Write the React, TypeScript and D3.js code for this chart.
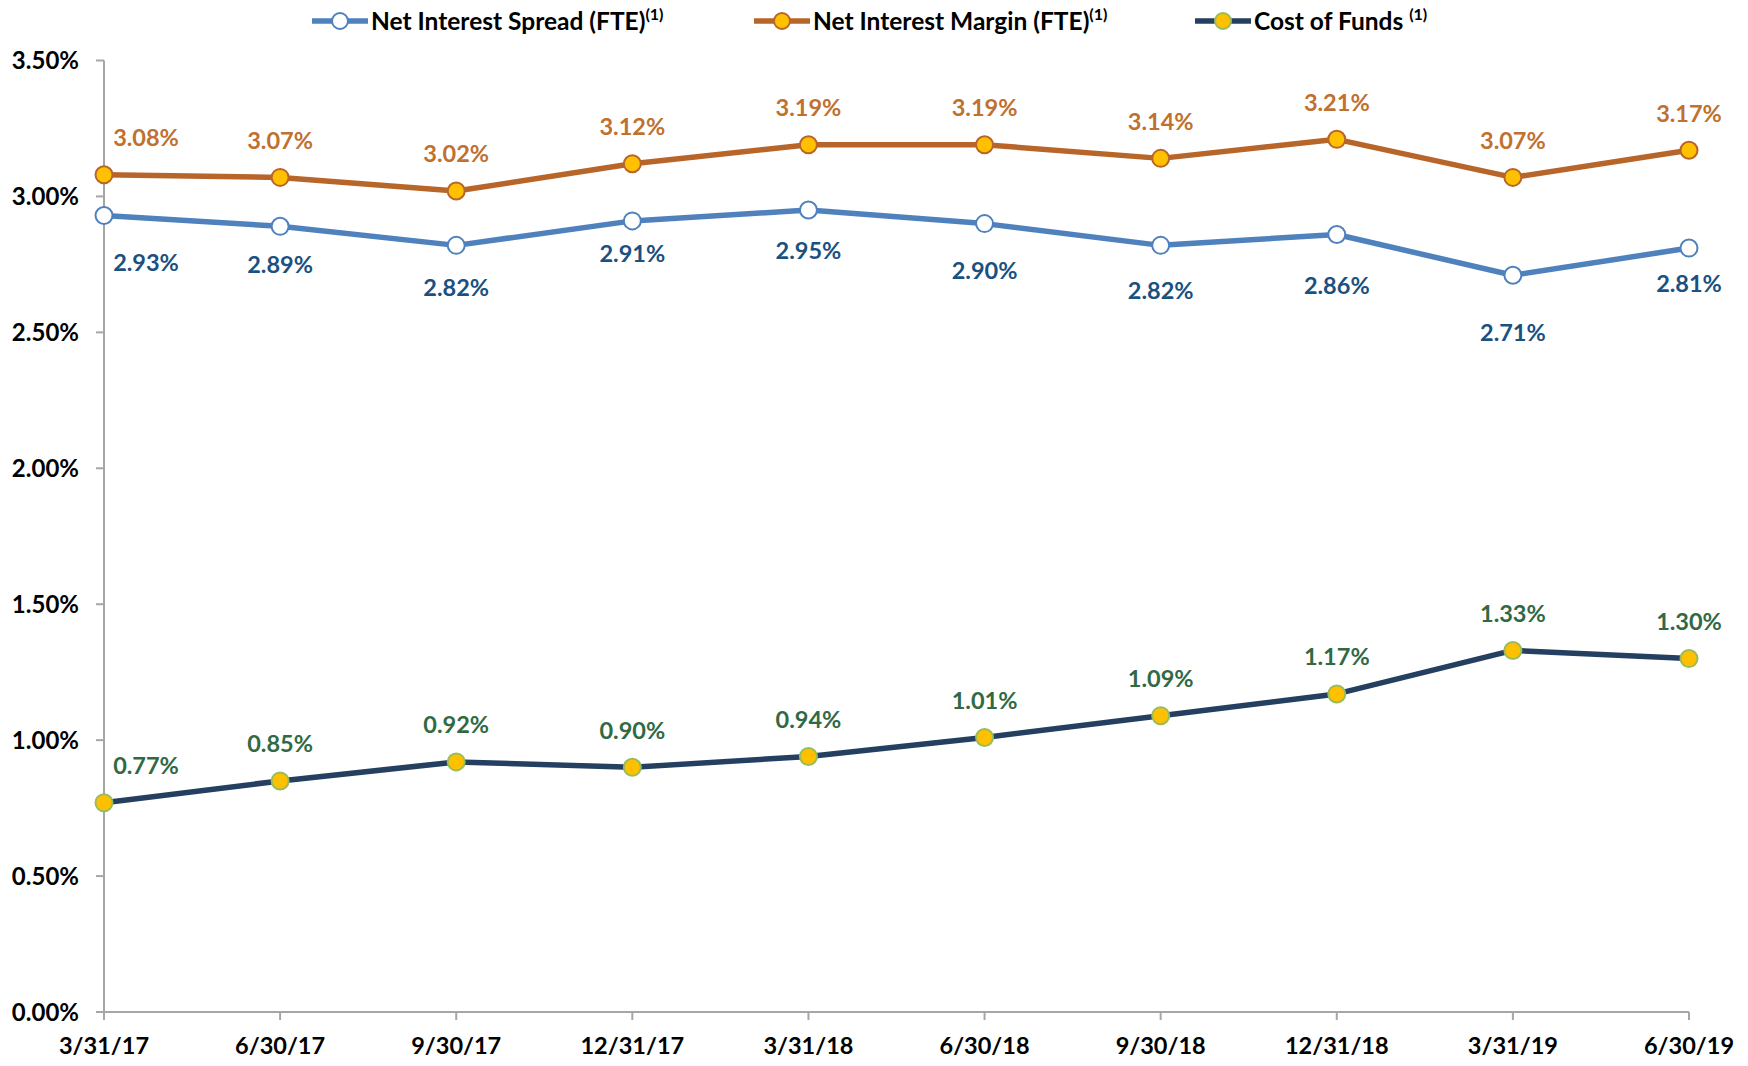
import { useRef, useEffect } from 'react';
import * as d3 from 'd3';

const dates = ['3/31/17', '6/30/17', '9/30/17', '12/31/17', '3/31/18', '6/30/18', '9/30/18', '12/31/18', '3/31/19', '6/30/19'];
const spread = [2.93, 2.89, 2.82, 2.91, 2.95, 2.90, 2.82, 2.86, 2.71, 2.81];
const margin = [3.08, 3.07, 3.02, 3.12, 3.19, 3.19, 3.14, 3.21, 3.07, 3.17];
const costOfFunds = [0.77, 0.85, 0.92, 0.90, 0.94, 1.01, 1.09, 1.17, 1.33, 1.30];
const yTicks = [0, 0.5, 1.0, 1.5, 2.0, 2.5, 3.0, 3.5];

// label offsets below the spread points (excel had them hand placed)
const spreadLabelDy = [47, 38, 42, 33, 41, 47, 45, 51, 57, 35];

const W = 1748;
const H = 1066;
const FONT = 'Lato, "Open Sans", sans-serif';

export default function App() {
  const svgRef = useRef<SVGSVGElement>(null);

  function renderChart() {
    const svg = d3.select(svgRef.current);
    svg.selectAll('*').remove();
    svg.attr('width', W).attr('height', H);

    const x = d3.scalePoint<string>().domain(dates).range([104, 1689]);
    const y = d3.scaleLinear().domain([0, 3.5]).range([1012, 60.5]);

    const axisColor = '#a6a6a6';

    // y axis
    svg.append('line')
      .attr('x1', 104).attr('x2', 104)
      .attr('y1', y(3.5)).attr('y2', y(0))
      .attr('stroke', axisColor).attr('stroke-width', 2);
    const yt = svg.selectAll('.ytick').data(yTicks).join('g').attr('class', 'ytick');
    yt.append('line')
      .attr('x1', 96).attr('x2', 104)
      .attr('y1', (d) => y(d)).attr('y2', (d) => y(d))
      .attr('stroke', axisColor).attr('stroke-width', 2);
    yt.append('text')
      .text((d) => d.toFixed(2) + '%')
      .attr('x', 79).attr('y', (d) => y(d))
      .attr('dy', '0.36em')
      .attr('text-anchor', 'end')
      .attr('font-family', FONT).attr('font-weight', 700).attr('font-size', 24)
      .attr('fill', '#000');

    // x axis
    svg.append('line')
      .attr('x1', 104).attr('x2', x(dates[dates.length - 1])!)
      .attr('y1', y(0)).attr('y2', y(0))
      .attr('stroke', axisColor).attr('stroke-width', 2);
    const xt = svg.selectAll('.xtick').data(dates).join('g').attr('class', 'xtick');
    xt.append('line')
      .attr('x1', (d) => x(d)!).attr('x2', (d) => x(d)!)
      .attr('y1', y(0)).attr('y2', y(0) + 8)
      .attr('stroke', axisColor).attr('stroke-width', 2);
    xt.append('text')
      .text((d) => d)
      .attr('x', (d) => x(d)!).attr('y', 1046)
      .attr('dy', '0.36em')
      .attr('text-anchor', 'middle')
      .attr('font-family', FONT).attr('font-weight', 700).attr('font-size', 23.5)
      .attr('fill', '#000');

    const line = d3.line<number>()
      .x((_, i) => x(dates[i])!)
      .y((d) => y(d));

    const series = [
      { name: 'spread', values: spread, stroke: '#4f81bd', mFill: '#fff', mStroke: '#4f81bd', label: '#1a5180' },
      { name: 'margin', values: margin, stroke: '#b8652a', mFill: '#ffc000', mStroke: '#b8652a', label: '#c0702f' },
      { name: 'cof', values: costOfFunds, stroke: '#243f60', mFill: '#ffc000', mStroke: '#9bbb59', label: '#2f6a45' },
    ];

    series.forEach((s) => {
      svg.append('path')
        .datum(s.values)
        .attr('d', line)
        .attr('fill', 'none')
        .attr('stroke', s.stroke)
        .attr('stroke-width', 5.5)
        .attr('stroke-linejoin', 'round');
      svg.selectAll('.m-' + s.name)
        .data(s.values)
        .join('circle')
        .attr('class', 'm-' + s.name)
        .attr('cx', (_, i) => x(dates[i])!)
        .attr('cy', (d) => y(d))
        .attr('r', 8.5)
        .attr('fill', s.mFill)
        .attr('stroke', s.mStroke)
        .attr('stroke-width', 2);
      svg.selectAll('.l-' + s.name)
        .data(s.values)
        .join('text')
        .attr('class', 'l-' + s.name)
        .text((d) => d.toFixed(2) + '%')
        .attr('x', (_, i) => x(dates[i])! + (i === 0 ? 42 : 0))
        .attr('y', (d, i) => y(d) + (s.name === 'spread' ? spreadLabelDy[i] : -37))
        .attr('dy', '0.36em')
        .attr('text-anchor', 'middle')
        .attr('font-family', FONT).attr('font-weight', 700).attr('font-size', 23.5)
        .attr('fill', s.label);
    });

    // legend
    const legend = [
      { text: 'Net Interest Spread (FTE)', x: 312, s: series[0] },
      { text: 'Net Interest Margin (FTE)', x: 754, s: series[1] },
      { text: 'Cost of Funds ', x: 1195, s: series[2] },
    ];
    const lg = svg.selectAll('.legend').data(legend).join('g')
      .attr('class', 'legend')
      .attr('transform', (d) => `translate(${d.x},21)`);
    lg.append('line')
      .attr('x1', 0).attr('x2', 56)
      .attr('stroke', (d) => d.s.stroke).attr('stroke-width', 5.5);
    lg.append('circle')
      .attr('cx', 28).attr('r', 8)
      .attr('fill', (d) => d.s.mFill)
      .attr('stroke', (d) => d.s.mStroke)
      .attr('stroke-width', 2);
    const lt = lg.append('text')
      .attr('x', 59).attr('dy', '0.36em')
      .attr('font-family', FONT).attr('font-weight', 700).attr('font-size', 24.5)
      .attr('fill', '#000');
    lt.append('tspan').text((d) => d.text);
    lt.append('tspan')
      .text('(1)')
      .attr('font-size', 16)
      .attr('dy', -10);
  }

  useEffect(() => {
    renderChart();
  }, []);

  return (
    <div style={{ position: 'absolute', left: 0, top: 0 }}>
      <svg ref={svgRef} />
    </div>
  );
}
